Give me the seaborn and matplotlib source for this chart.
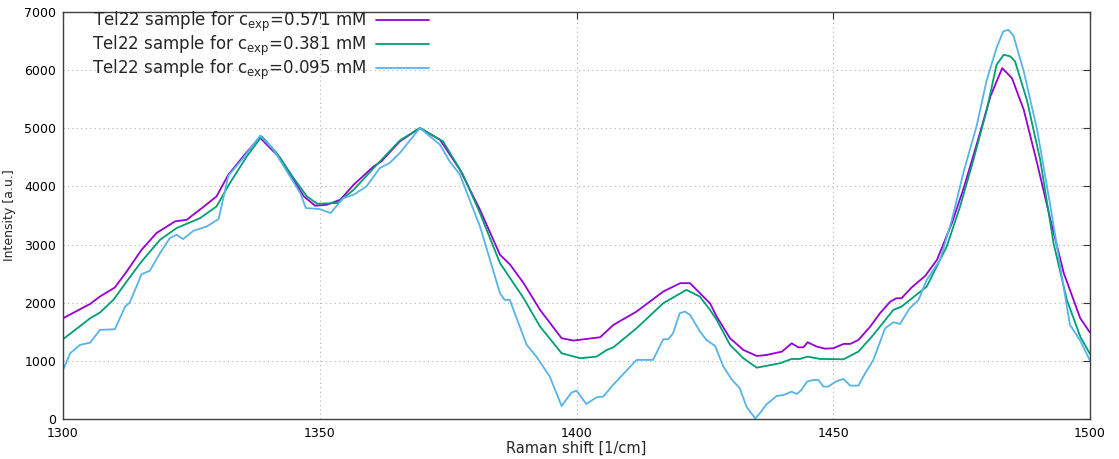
import matplotlib
matplotlib.use("Agg")
import matplotlib.pyplot as plt
import seaborn as sns
import pandas as pd

labels = [r"Tel22 sample for c$_{\mathrm{exp}}$=0.571 mM",
          r"Tel22 sample for c$_{\mathrm{exp}}$=0.381 mM",
          r"Tel22 sample for c$_{\mathrm{exp}}$=0.095 mM"]
colors = ["#9400D3", "#009E73", "#56B4E9"]

x_571 = [1300, 1305.3, 1307.2, 1310.1, 1312.4, 1315.3, 1318.2, 1321.8, 1324.1, 1327.3, 1329.9,
         1332.2, 1335.1, 1338.3, 1340, 1342.3, 1344.9, 1346.9, 1349.1, 1351.4, 1354, 1356.6,
         1360.5, 1362.0, 1365.6, 1369.5, 1373.4, 1377.3, 1381.2, 1385.1, 1387.1, 1389.7, 1392.9,
         1397.1, 1399.4, 1404.6, 1407.2, 1411.7, 1416.9, 1420.2, 1422.1, 1424.3, 1426,
         1427.3, 1429.9, 1432.5, 1435.1, 1437, 1440, 1441.9, 1443.2, 1444.2, 1445, 1446.8,
         1448.4, 1450, 1452, 1453.3, 1454.9, 1457.2, 1459.1, 1461.1, 1462.3, 1463.3, 1465.3,
         1467.9, 1470.2, 1473.1, 1475.4, 1478, 1480.6, 1482.9, 1484.8, 1487.1, 1489.7, 1492.3,
         1494.9, 1498.1, 1500]
y_571 = [1733, 1980, 2107, 2262, 2537, 2910, 3197, 3398, 3427, 3645, 3829,
         4202, 4517, 4845, 4690, 4489, 4116, 3829, 3668, 3685, 3771, 4029,
         4345, 4431, 4775, 5005, 4804, 4288, 3599, 2824, 2652, 2336, 1877,
         1389, 1349, 1406, 1619, 1848, 2193, 2336, 2336, 2140, 1990,
         1761, 1388, 1188, 1084, 1101, 1159, 1302, 1233, 1233, 1320, 1245,
         1210, 1216, 1291, 1291, 1360, 1589, 1819, 2019, 2077, 2077, 2266,
         2461, 2737, 3368, 3970, 4744, 5548, 6035, 5863, 5318, 4400, 3425,
         2507, 1733, 1486]

x_381 = [1300, 1305.3, 1307.2, 1309.8, 1312.4, 1315.3, 1318.9, 1322.1, 1326.7, 1329.9, 1332.5,
         1335.8, 1338.7, 1341.6, 1344.9, 1347.5, 1349.5, 1353.4, 1356.6, 1360.5, 1365.6, 1369.5,
         1374, 1377.9, 1381.2, 1385.1, 1389.7, 1392.9, 1397.1, 1400.7, 1403.9, 1405.9, 1407.2,
         1411.7, 1416.9, 1421.4, 1424, 1426, 1427.3, 1429.9, 1432.5, 1435.1, 1439.6, 1441.9,
         1443.5, 1445, 1447.4, 1452, 1454.9, 1457.8, 1461.7, 1463.3, 1468.2, 1472.1, 1474.7,
         1477.3, 1479.9, 1481.8, 1483.2, 1484.5, 1485.4, 1487.7, 1490.3, 1492.9, 1495.5, 1498.1,
         1500]
y_381 = [1372, 1733, 1831, 2049, 2365, 2709, 3082, 3283, 3455, 3656, 4058,
         4517, 4862, 4575, 4144, 3829, 3702, 3714, 3943, 4316, 4790, 5005,
         4776, 4202, 3542, 2681, 2078, 1590, 1131, 1045, 1073, 1188, 1234,
         1561, 1992, 2221, 2107, 1877, 1704, 1274, 1044, 883, 958, 1033,
         1033, 1073, 1033, 1027, 1159, 1446, 1876, 1933, 2278, 2966, 3654,
         4458, 5318, 6093, 6265, 6236, 6150, 5490, 4458, 3023, 2048, 1417,
         1119]

x_095 = [1300, 1301.4, 1303.3, 1305.3, 1307.2, 1310.1, 1312.1, 1313, 1315.3, 1316.9, 1318.9,
         1320.8, 1322.1, 1323.4, 1325.4, 1328, 1330.3, 1332.2, 1335.1, 1338.4, 1341, 1344.2,
         1346.2, 1347.3, 1350.0, 1352.1, 1354.6, 1356.6, 1359.1, 1361.7, 1363.6, 1365.6, 1369.5,
         1373.4, 1375.3, 1377.3, 1381.2, 1385.1, 1386, 1387, 1390.3, 1392.2, 1394.8, 1397.1,
         1399, 1400, 1401.9, 1403.9, 1405.2, 1407.1, 1411.7, 1414.9, 1416.9, 1417.9, 1418.8,
         1420.1, 1421.1, 1422.1, 1424.05, 1425.3, 1427, 1428.6, 1430.2, 1431.8, 1433.1, 1434.8,
         1435.7, 1437, 1439, 1440.3, 1441.9, 1442.9, 1443.8, 1444.9, 1446.1, 1447.1, 1448.1,
         1449.0, 1450.7, 1452, 1453.3, 1454.9, 1456.2, 1457.8, 1460.1, 1461.7, 1463, 1464.9,
         1466.6, 1468.2, 1470.8, 1473.1, 1475.4, 1477.9, 1479.9, 1481.8, 1483.1, 1484.1, 1485.1,
         1487.1, 1489.7, 1492.3, 1494.2, 1496.1, 1498.1, 1500]
y_095 = [844, 1131, 1274, 1314, 1533, 1544, 1934, 2003, 2491, 2549, 2853,
         3111, 3168, 3094, 3237, 3312, 3438, 4184, 4489, 4873, 4632, 4173,
         3886, 3628, 3610, 3542, 3800, 3857, 4001, 4316, 4403, 4575, 5005,
         4718, 4431, 4202, 3312, 2164, 2049, 2049, 1274, 1073, 729, 224,
         453, 488, 258, 373, 385, 585, 1016, 1016, 1372, 1372, 1475,
         1820, 1848, 1791, 1503, 1360, 1256, 901, 683, 528, 212, 11,
         98, 252, 396, 413, 470, 430, 499, 643, 671, 671, 557,
         557, 654, 688, 574, 574, 786, 1015, 1560, 1664, 1635, 1905,
         2048, 2392, 2737, 3425, 4257, 5031, 5835, 6380, 6666, 6695, 6592,
         5978, 4974, 3654, 2622, 1618, 1348, 1004]

x_ticks = [1300, 1350, 1400, 1450, 1500]
y_ticks = [0, 1000, 2000, 3000, 4000, 5000, 6000, 7000]

frames = []
for lab, xs, ys in zip(labels, [x_571, x_381, x_095], [y_571, y_381, y_095]):
    frames.append(pd.DataFrame({"x": xs, "y": ys, "series": lab}))
df = pd.concat(frames, ignore_index=True)

sns.set_style("white")
plt.rcParams['font.family'] = ['DejaVu Sans']

fig = plt.figure(figsize=(11.19, 4.59), dpi=100)
ax = fig.add_axes([63/1119, 1 - 419/459, 1027/1119, 407/459])

sns.lineplot(data=df, x="x", y="y", hue="series", hue_order=labels, palette=colors,
             estimator=None, sort=True, linewidth=1.3, ax=ax, legend=True)

ax.set_xlim(1300, 1500)
ax.set_ylim(0, 7000)
ax.set_xticks(x_ticks)
ax.set_yticks(y_ticks)
ax.tick_params(direction="in", top=True, right=True, length=5, width=0.8,
               labelsize=9, colors="#333333", labelcolor="black")
ax.tick_params(axis="x", pad=6)
ax.tick_params(axis="y", pad=5)
ax.grid(True, linestyle=(0, (1, 3)), color="#b0b0b0", linewidth=0.8)
for s in ax.spines.values():
    s.set_color("#404040")
    s.set_linewidth(1.0)
ax.set_xlabel("Raman shift [1/cm]", fontsize=10.5, labelpad=0)
ax.set_ylabel("Intensity [a.u.]", fontsize=9, labelpad=6)

handles, labs = ax.get_legend_handles_labels()
ax.legend(handles, labs, loc="upper left", bbox_to_anchor=((90 - 63) / 1027, 1.01),
          frameon=False, markerfirst=False, fontsize=12, handlelength=3.2,
          handletextpad=0.6, labelspacing=0.0, borderpad=0.1, borderaxespad=0)

fig.savefig("out.png", dpi=100)
